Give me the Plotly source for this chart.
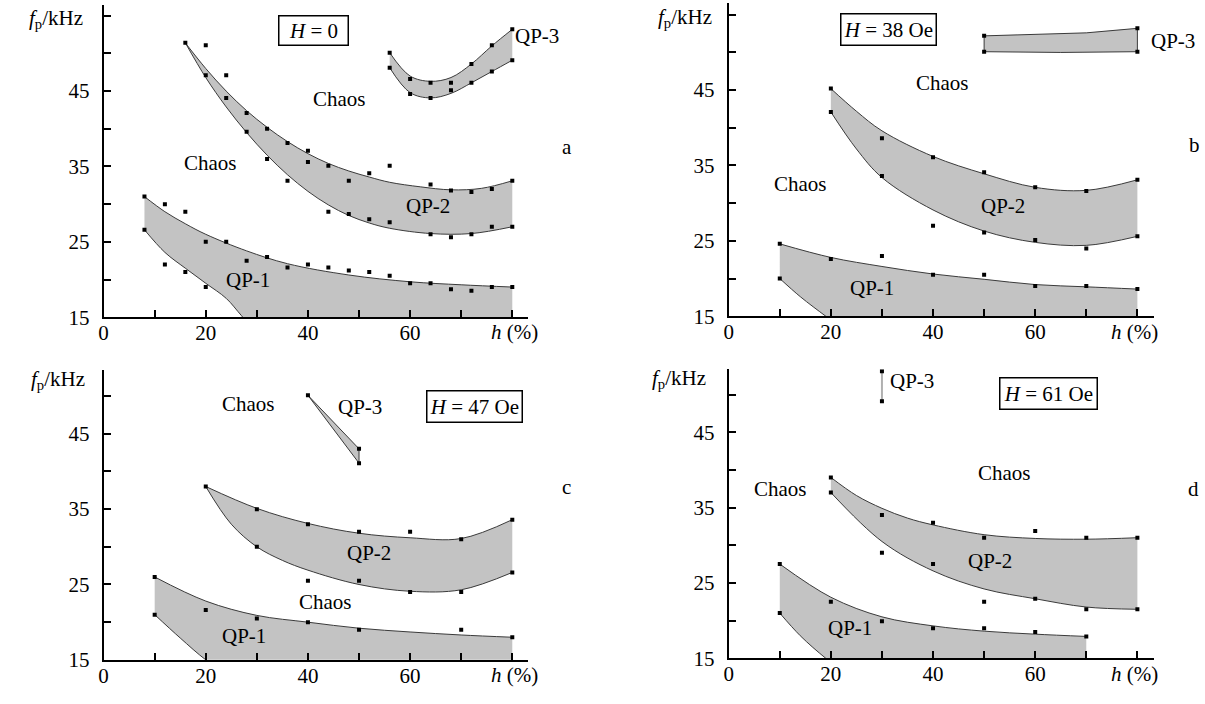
import plotly.graph_objects as go

# ---------------- data (h in %, f in kHz) ----------------
# Panel a (H = 0)
A_QP1_PTS_H = [8, 8, 12, 12, 16, 16, 20, 20, 24, 28, 32, 36, 40, 44, 48, 52, 56, 60, 64, 68, 72, 76, 80]
A_QP1_PTS_F = [31.0, 26.6, 30.0, 22.0, 29.0, 21.0, 25.0, 19.0, 25.0, 22.5, 23.0, 21.6, 22.0, 21.6, 21.2, 21.0, 20.5, 19.5, 19.5, 18.7, 18.5, 19.0, 19.0]
A_QP1_UP_H = [8, 12, 16, 20, 28, 36, 48, 60, 70, 80]
A_QP1_UP_F = [31.0, 29.0, 27.4, 26.0, 23.8, 22.1, 20.6, 19.7, 19.3, 19.0]
A_QP1_LO_H = [8, 12, 16, 20, 24, 27, 30, 80]
A_QP1_LO_F = [26.6, 23.6, 21.5, 19.5, 17.5, 15.2, 13.0, 13.0]

A_QP2_PTS_H = [16, 20, 20, 24, 24, 28, 28, 32, 32, 36, 36, 40, 40, 44, 44, 48, 48, 52, 52, 56, 56, 64, 64, 68, 68, 72, 72, 76, 76, 80, 80]
A_QP2_PTS_F = [51.4, 51.1, 47.1, 47.1, 44.1, 42.1, 39.6, 40.0, 36.0, 38.1, 33.1, 37.1, 35.6, 35.1, 29.0, 33.1, 28.7, 34.1, 28.0, 35.1, 27.6, 32.6, 26.0, 31.8, 25.6, 31.6, 26.0, 32.0, 27.0, 33.1, 27.0]
A_QP2_UP_H = [16, 20, 24, 28, 32, 36, 40, 44, 48, 52, 56, 62, 68, 74, 80]
A_QP2_UP_F = [51.4, 48.0, 45.0, 42.4, 40.2, 38.3, 36.7, 35.4, 34.4, 33.6, 32.9, 32.3, 31.9, 32.1, 33.1]
A_QP2_LO_H = [16, 20, 24, 28, 32, 36, 40, 44, 48, 52, 56, 64, 72, 80]
A_QP2_LO_F = [51.4, 46.8, 42.9, 39.5, 36.5, 33.9, 31.7, 29.9, 28.5, 27.5, 26.8, 26.1, 26.1, 27.0]

A_QP3_PTS_H = [56, 56, 60, 60, 64, 64, 68, 68, 72, 72, 76, 76, 80, 80]
A_QP3_PTS_F = [50.1, 48.1, 46.6, 44.6, 46.1, 44.1, 46.1, 45.1, 48.6, 46.1, 51.1, 47.6, 53.2, 49.1]
A_QP3_UP_H = [56, 60, 64, 68, 72, 76, 80]
A_QP3_UP_F = [50.1, 47.0, 46.3, 46.8, 48.6, 51.0, 53.2]
A_QP3_LO_H = [56, 60, 64, 68, 72, 76, 80]
A_QP3_LO_F = [48.1, 44.8, 44.1, 44.7, 46.1, 47.6, 49.1]

# Panel b (H = 38 Oe)
B_QP1_PTS_H = [10, 10, 20, 30, 40, 50, 60, 70, 80]
B_QP1_PTS_F = [24.6, 20.0, 22.6, 23.0, 20.5, 20.5, 19.0, 19.0, 18.6]
B_QP1_UP_H = [10, 20, 30, 40, 50, 60, 70, 80]
B_QP1_UP_F = [24.6, 22.8, 21.6, 20.6, 19.9, 19.2, 18.9, 18.6]
B_QP1_LO_H = [10, 14, 19, 22, 80]
B_QP1_LO_F = [20.0, 17.6, 15.0, 13.5, 13.5]

B_QP2_PTS_H = [20, 20, 30, 30, 40, 40, 50, 50, 60, 60, 70, 70, 80, 80]
B_QP2_PTS_F = [45.2, 42.1, 38.6, 33.6, 36.1, 27.0, 34.1, 26.1, 32.1, 25.1, 31.6, 24.0, 33.1, 25.6]
B_QP2_UP_H = [20, 25, 30, 40, 50, 60, 70, 80]
B_QP2_UP_F = [45.2, 42.2, 39.6, 36.2, 33.9, 32.1, 31.7, 33.1]
B_QP2_LO_H = [20, 25, 30, 40, 50, 60, 70, 80]
B_QP2_LO_F = [42.1, 37.2, 33.4, 29.1, 26.3, 24.8, 24.4, 25.6]

B_QP3_PTS_H = [50, 50, 80, 80]
B_QP3_PTS_F = [52.2, 50.1, 53.2, 50.1]
B_QP3_OUT_H = [50, 60, 70, 80, 80, 65, 50, 50]
B_QP3_OUT_F = [52.2, 52.4, 52.6, 53.2, 50.1, 50.0, 50.1, 52.2]

# Panel c (H = 47 Oe)
C_QP1_PTS_H = [10, 10, 20, 30, 40, 50, 70, 80]
C_QP1_PTS_F = [26.0, 21.0, 21.6, 20.5, 20.0, 19.0, 19.0, 18.0]
C_QP1_UP_H = [10, 20, 30, 40, 50, 60, 70, 80]
C_QP1_UP_F = [26.0, 22.8, 20.9, 20.0, 19.2, 18.7, 18.3, 18.0]
C_QP1_LO_H = [10, 15, 20, 24, 80]
C_QP1_LO_F = [21.0, 17.9, 15.0, 13.2, 13.2]

C_QP2_PTS_H = [20, 30, 30, 40, 40, 50, 50, 60, 60, 70, 70, 80, 80]
C_QP2_PTS_F = [38.0, 35.0, 30.0, 33.0, 25.5, 32.0, 25.5, 32.0, 24.0, 31.0, 24.0, 33.6, 26.6]
C_QP2_UP_H = [20, 30, 40, 50, 60, 70, 80]
C_QP2_UP_F = [38.0, 35.1, 33.1, 31.8, 31.2, 31.1, 33.6]
C_QP2_LO_H = [20, 25, 30, 35, 40, 50, 60, 70, 80]
C_QP2_LO_F = [38.0, 33.0, 30.0, 28.2, 26.9, 25.0, 24.1, 24.3, 26.6]

C_QP3_PTS_H = [40, 50, 50]
C_QP3_PTS_F = [50.1, 43.0, 41.1]
C_QP3_OUT_H = [40, 50, 50, 40]
C_QP3_OUT_F = [50.1, 43.0, 41.1, 50.1]

# Panel d (H = 61 Oe)
D_QP1_PTS_H = [10, 10, 20, 30, 40, 50, 60, 70]
D_QP1_PTS_F = [27.5, 21.0, 22.5, 19.9, 19.0, 19.0, 18.5, 17.9]
D_QP1_UP_H = [10, 20, 30, 40, 50, 60, 70]
D_QP1_UP_F = [27.5, 23.1, 20.5, 19.3, 18.6, 18.2, 17.9]
D_QP1_LO_H = [10, 14, 19, 23, 70]
D_QP1_LO_F = [21.0, 18.0, 15.0, 13.0, 13.0]

D_QP2_PTS_H = [20, 20, 30, 30, 40, 40, 50, 50, 60, 60, 70, 70, 80, 80]
D_QP2_PTS_F = [39.0, 37.0, 34.0, 29.0, 33.0, 27.5, 31.0, 22.5, 31.9, 22.9, 31.0, 21.5, 31.0, 21.5]
D_QP2_UP_H = [20, 25, 30, 35, 40, 50, 60, 70, 80]
D_QP2_UP_F = [39.0, 36.6, 34.9, 33.6, 32.7, 31.4, 30.9, 30.8, 31.0]
D_QP2_LO_H = [20, 30, 40, 50, 60, 70, 80]
D_QP2_LO_F = [37.0, 30.5, 26.6, 24.2, 22.9, 21.8, 21.5]

D_QP3_PTS_H = [30, 30]
D_QP3_PTS_F = [53.1, 49.1]

# axis ticks (labelled major ticks, unlabelled minor ticks)
X_TICKS = [0, 20, 40, 60]
X_MINOR = [10, 30, 50, 70, 80]
Y_TICKS = [15, 25, 35, 45]
Y_MINOR = [20, 30, 40, 50, 55]

# ---------------- style ----------------
W, H = 1205, 704
FONT = "Liberation Serif"
FS = 21
FILL = "#c3c3c3"
EDGE = "#3a3a3a"

fig = go.Figure()

# panel geometry (pixels): x of h=0, x of axis end, y of f=15, y of axis top
PANELS = {
    "a": dict(xa="x", ya="y", x0=99, x1=525, y0=322.7, y1=5.0),
    "b": dict(xa="x2", ya="y2", x0=726.7, x1=1153.3, y0=321.7, y1=3.3),
    "c": dict(xa="x3", ya="y3", x0=99, x1=525, y0=671.3, y1=376.3),
    "d": dict(xa="x4", ya="y4", x0=726.7, x1=1153.3, y0=669.7, y1=375.7),
}
PX_PER_H = 5.13
PX_PER_F = 7.667


def region(p, up_h, up_f, lo_h, lo_f):
    xa, ya = PANELS[p]["xa"], PANELS[p]["ya"]
    fig.add_trace(go.Scatter(x=lo_h, y=lo_f, mode="lines", xaxis=xa, yaxis=ya,
                             line=dict(color=EDGE, width=1, shape="spline"),
                             hoverinfo="skip", showlegend=False))
    fig.add_trace(go.Scatter(x=up_h, y=up_f, mode="lines", xaxis=xa, yaxis=ya,
                             line=dict(color=EDGE, width=1, shape="spline"),
                             fill="tonexty", fillcolor=FILL,
                             hoverinfo="skip", showlegend=False))


def polygon(p, hs, fs):
    xa, ya = PANELS[p]["xa"], PANELS[p]["ya"]
    fig.add_trace(go.Scatter(x=hs, y=fs, mode="lines", xaxis=xa, yaxis=ya,
                             line=dict(color=EDGE, width=1), fill="toself", fillcolor=FILL,
                             hoverinfo="skip", showlegend=False))


def points(p, hs, fs):
    xa, ya = PANELS[p]["xa"], PANELS[p]["ya"]
    fig.add_trace(go.Scatter(x=hs, y=fs, mode="markers", xaxis=xa, yaxis=ya,
                             marker=dict(symbol="square", size=4, color="black"),
                             hoverinfo="skip", showlegend=False))


region("a", A_QP1_UP_H, A_QP1_UP_F, A_QP1_LO_H, A_QP1_LO_F)
region("a", A_QP2_UP_H, A_QP2_UP_F, A_QP2_LO_H, A_QP2_LO_F)
region("a", A_QP3_UP_H, A_QP3_UP_F, A_QP3_LO_H, A_QP3_LO_F)
points("a", A_QP1_PTS_H, A_QP1_PTS_F)
points("a", A_QP2_PTS_H, A_QP2_PTS_F)
points("a", A_QP3_PTS_H, A_QP3_PTS_F)

region("b", B_QP1_UP_H, B_QP1_UP_F, B_QP1_LO_H, B_QP1_LO_F)
region("b", B_QP2_UP_H, B_QP2_UP_F, B_QP2_LO_H, B_QP2_LO_F)
polygon("b", B_QP3_OUT_H, B_QP3_OUT_F)
points("b", B_QP1_PTS_H, B_QP1_PTS_F)
points("b", B_QP2_PTS_H, B_QP2_PTS_F)
points("b", B_QP3_PTS_H, B_QP3_PTS_F)

region("c", C_QP1_UP_H, C_QP1_UP_F, C_QP1_LO_H, C_QP1_LO_F)
region("c", C_QP2_UP_H, C_QP2_UP_F, C_QP2_LO_H, C_QP2_LO_F)
polygon("c", C_QP3_OUT_H, C_QP3_OUT_F)
points("c", C_QP1_PTS_H, C_QP1_PTS_F)
points("c", C_QP2_PTS_H, C_QP2_PTS_F)
points("c", C_QP3_PTS_H, C_QP3_PTS_F)

region("d", D_QP1_UP_H, D_QP1_UP_F, D_QP1_LO_H, D_QP1_LO_F)
region("d", D_QP2_UP_H, D_QP2_UP_F, D_QP2_LO_H, D_QP2_LO_F)
fig.add_trace(go.Scatter(x=D_QP3_PTS_H, y=D_QP3_PTS_F, mode="lines", xaxis="x4", yaxis="y4",
                         line=dict(color="#b0b0b0", width=2), hoverinfo="skip", showlegend=False))
points("d", D_QP1_PTS_H, D_QP1_PTS_F)
points("d", D_QP2_PTS_H, D_QP2_PTS_F)
points("d", D_QP3_PTS_H, D_QP3_PTS_F)

# ---------------- axes ----------------
layout = dict(width=W, height=H, margin=dict(l=0, r=0, t=0, b=0, pad=0),
              paper_bgcolor="white", plot_bgcolor="white", showlegend=False,
              font=dict(family=FONT, size=FS, color="black"))

for key, p in PANELS.items():
    xname = "xaxis" + p["xa"][1:]
    yname = "yaxis" + p["ya"][1:]
    xmax = (p["x1"] - p["x0"]) / PX_PER_H
    ymax = 15 + (p["y0"] - p["y1"]) / PX_PER_F
    common = dict(showline=True, linecolor="black", linewidth=2, ticks="inside",
                  ticklen=7, tickwidth=1.5, tickcolor="black", showgrid=False,
                  zeroline=False, fixedrange=True,
                  tickfont=dict(family=FONT, size=FS, color="black"))
    minor_common = dict(ticks="inside", ticklen=7, tickwidth=1.5, tickcolor="black",
                        showgrid=False, tickmode="array")
    layout[xname] = dict(common, domain=[p["x0"] / W, p["x1"] / W], range=[0, xmax],
                         tickmode="array", tickvals=X_TICKS,
                         minor=dict(minor_common, tickvals=X_MINOR),
                         anchor=p["ya"], ticklabelstandoff=-4)
    layout[yname] = dict(common, domain=[1 - p["y0"] / H, 1 - p["y1"] / H], range=[15, ymax],
                         tickmode="array", tickvals=Y_TICKS,
                         minor=dict(minor_common, tickvals=Y_MINOR),
                         anchor=p["xa"], ticklabelstandoff=8)

fig.update_layout(**layout)

# ---------------- texts ----------------
ann = []


def txt(p, h, f, s, xanchor="center"):
    ann.append(dict(x=h, y=f, xref=PANELS[p]["xa"], yref=PANELS[p]["ya"], text=s,
                    showarrow=False, xanchor=xanchor, yanchor="middle",
                    font=dict(family=FONT, size=FS, color="black")))


def ptxt(px, py, s, xanchor="center"):
    ann.append(dict(x=px / W, y=1 - py / H, xref="paper", yref="paper", text=s,
                    showarrow=False, xanchor=xanchor, yanchor="middle",
                    font=dict(family=FONT, size=FS, color="black")))


def box(p, h, f, s, w, hgt):
    ann.append(dict(x=h, y=f, xref=PANELS[p]["xa"], yref=PANELS[p]["ya"], text=s,
                    showarrow=False, xanchor="center", yanchor="middle",
                    width=w, height=hgt, bordercolor="black", borderwidth=1.5, borderpad=0,
                    bgcolor="white", font=dict(family=FONT, size=FS, color="black")))


# panel a
txt("a", 21, 35.5, "Chaos")
txt("a", 46.2, 44.0, "Chaos")
txt("a", 28.2, 19.9, "QP-1")
txt("a", 63.6, 29.7, "QP-2")
txt("a", 80.2, 52.3, "QP-3", "left")
box("a", 41.1, 53.1, "<i>H</i> = 0", 68, 28)
# panel b
txt("b", 14.0, 32.6, "Chaos")
txt("b", 41.9, 45.9, "Chaos")
txt("b", 28.0, 18.8, "QP-1")
txt("b", 53.6, 29.6, "QP-2")
txt("b", 82.2, 51.5, "QP-3", "left")
box("b", 31.2, 53.1, "<i>H</i> = 38 Oe", 94, 30)
# panel c
txt("c", 28.3, 49.0, "Chaos")
txt("c", 43.4, 22.7, "Chaos")
txt("c", 27.5, 18.2, "QP-1")
txt("c", 51.9, 29.2, "QP-2")
txt("c", 50.1, 48.5, "QP-3")
box("c", 72.6, 48.6, "<i>H</i> = 47 Oe", 94, 30)
# panel d
txt("d", 10.1, 37.4, "Chaos")
txt("d", 54.0, 39.6, "Chaos")
txt("d", 23.7, 19.0, "QP-1")
txt("d", 51.2, 27.9, "QP-2")
txt("d", 31.2, 51.8, "QP-3", "left")
box("d", 62.6, 50.2, "<i>H</i> = 61 Oe", 96, 30)

# panel letters
ptxt(564, 150, "a")
ptxt(1194, 148, "b")
ptxt(564, 495, "c")
ptxt(1193, 497, "d")

# axis titles
for (px, py) in [(80, 19), (712, 18), (82, 387), (706, 386)]:
    ptxt(px, py, "<i>f</i><sub>p</sub>/kHz", "right")
for (px, py) in [(512, 338), (1134, 338), (512, 687), (1134, 686)]:
    ptxt(px, py, "<i>h</i> (%)")

fig.update_layout(annotations=ann)
fig.write_html("out.html", config={"displayModeBar": False},
               post_script="document.body.style.margin='0px';document.body.style.overflow='hidden';")
